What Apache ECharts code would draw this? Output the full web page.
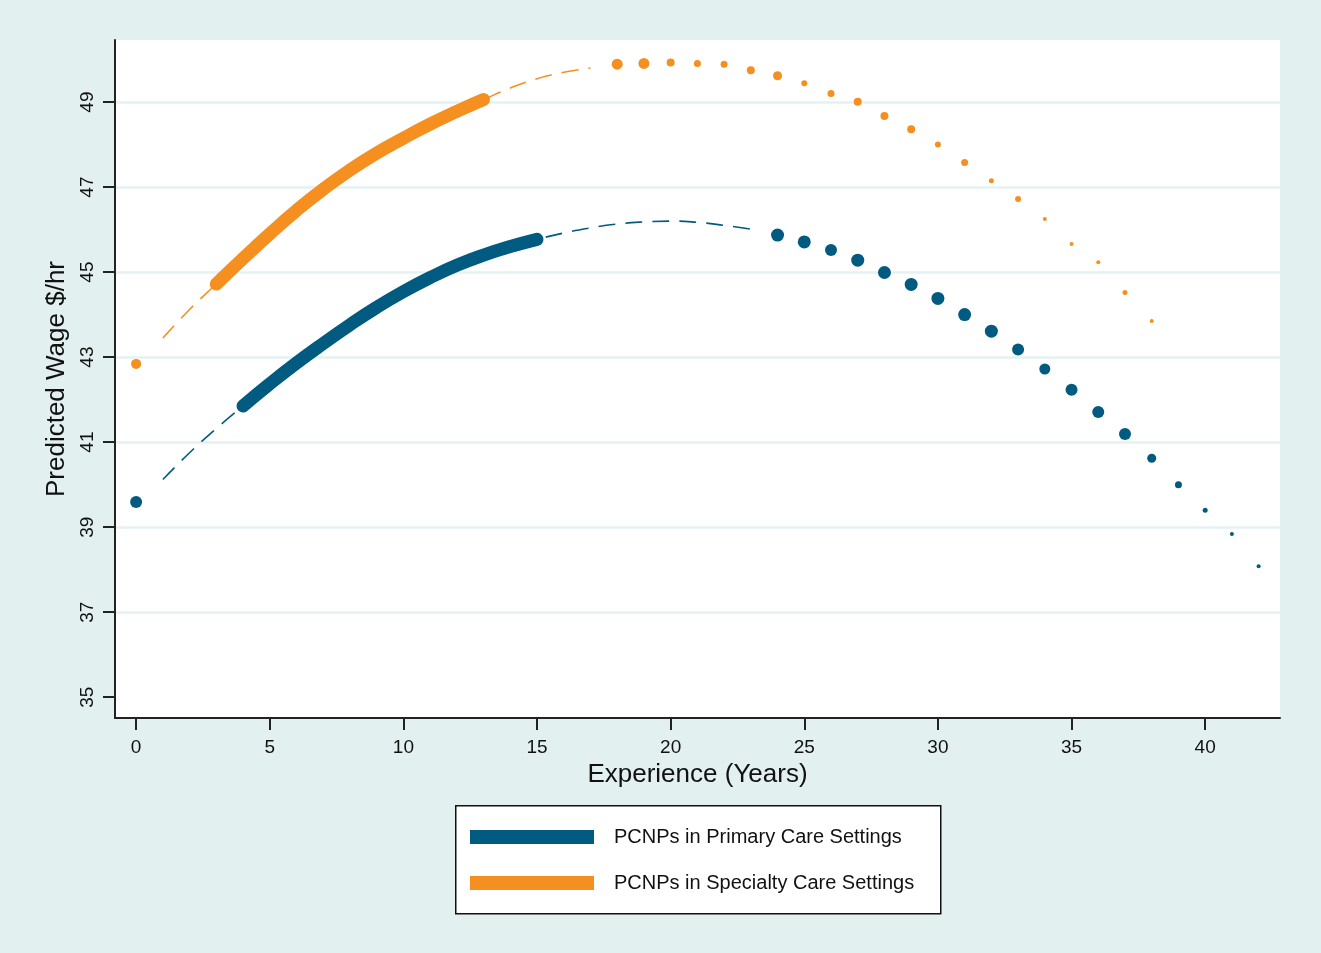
<!DOCTYPE html>
<html>
<head>
<meta charset="utf-8">
<script src="https://cdn.jsdelivr.net/npm/echarts@6/dist/echarts.min.js"></script>
<style>
  html, body { margin: 0; padding: 0; background: #e3f0f0; }
  #chart { width: 1321px; height: 953px; }
</style>
</head>
<body>
<div id="chart"></div>
<script>
// ---------- DATA ----------
const xTicks = [0, 5, 10, 15, 20, 25, 30, 35, 40];
const yTicks = [35, 37, 39, 41, 43, 45, 47, 49];

const seriesNames = ['PCNPs in Primary Care Settings', 'PCNPs in Specialty Care Settings'];

// Primary care: fitted (dashed) curve
const primaryFitX = [1, 2, 3, 4, 5, 6, 7, 8, 9, 10, 11, 12, 13, 14, 15, 16, 17, 18, 19, 20, 21, 22, 23];
const primaryFitY = [40.12, 40.75, 41.32, 41.85, 42.37, 42.86, 43.32, 43.76, 44.17, 44.54, 44.87, 45.16, 45.40, 45.60, 45.77, 45.92, 46.04, 46.13, 46.18, 46.20, 46.17, 46.10, 46.01];
// Primary care: dense band of observations
const primaryBandX = [4, 5, 6, 7, 8, 9, 10, 11, 12, 13, 14, 15];
const primaryBandY = [41.85, 42.37, 42.86, 43.32, 43.76, 44.17, 44.54, 44.87, 45.16, 45.40, 45.60, 45.77];
// Primary care: clustered observations
const primaryPtsX = [0, 24, 25, 26, 27, 28, 29, 30, 31, 32, 33, 34, 35, 36, 37, 38, 39, 40, 41, 42];
const primaryPtsY = [39.59, 45.87, 45.71, 45.52, 45.28, 44.99, 44.71, 44.38, 44.00, 43.61, 43.18, 42.72, 42.23, 41.71, 41.19, 40.62, 40.00, 39.40, 38.84, 38.08];

// Specialty care: fitted (dashed) curve
const specialtyFitX = [1, 2, 3, 4, 5, 6, 7, 8, 9, 10, 11, 12, 13, 14, 15, 16, 17];
const specialtyFitY = [43.45, 44.12, 44.72, 45.32, 45.90, 46.45, 46.95, 47.40, 47.80, 48.15, 48.48, 48.78, 49.06, 49.33, 49.55, 49.70, 49.80];
// Specialty care: dense band of observations
const specialtyBandX = [3, 4, 5, 6, 7, 8, 9, 10, 11, 12, 13];
const specialtyBandY = [44.72, 45.32, 45.90, 46.45, 46.95, 47.40, 47.80, 48.15, 48.48, 48.78, 49.06];
// Specialty care: clustered observations
const specialtyPtsX = [0, 18, 19, 20, 21, 22, 23, 24, 25, 26, 27, 28, 29, 30, 31, 32, 33, 34, 35, 36, 37, 38];
const specialtyPtsY = [42.84, 49.89, 49.91, 49.93, 49.91, 49.89, 49.75, 49.62, 49.44, 49.20, 49.01, 48.67, 48.36, 48.00, 47.58, 47.15, 46.72, 46.25, 45.66, 45.23, 44.52, 43.85];

// ---------- STYLE ----------
const BLUE = '#015b80';
const ORANGE = '#f58f1f';
const BG = '#e3f0f0';
const GRIDC = '#e6f2f2';
const FONT = '"Liberation Sans", Arial, Helvetica, sans-serif';
// marker diameters (cluster density), styling only
const primaryPtSizes = [12, 13, 13, 12, 13, 13, 13, 13, 13, 13, 12, 11, 12, 12, 12, 9, 7, 5, 4, 4];
const specialtyPtSizes = [10, 11, 11, 8, 7, 7, 8, 9, 6, 7, 8, 8, 8, 6, 7, 5, 6, 4, 4, 4, 5, 4];
// no grid line on the lowest tick (35), as in the reference
const gridColors = ['rgba(0,0,0,0)', GRIDC, GRIDC, GRIDC, GRIDC, GRIDC, GRIDC, GRIDC];

const zip = (xs, ys) => xs.map((x, i) => [x, ys[i]]);

const chart = echarts.init(document.getElementById('chart'), null, { renderer: 'canvas' });

const option = {
  backgroundColor: BG,
  animation: false,
  textStyle: { fontFamily: FONT },
  grid: {
    left: 115, right: 41, top: 40, bottom: 235,
    show: true, backgroundColor: '#ffffff', borderWidth: 0
  },
  graphic: [{
    type: 'rect',
    left: 455, top: 805,
    shape: { width: 485, height: 108 },
    style: { fill: '#ffffff', stroke: '#111111', lineWidth: 1.5 },
    z: 0
  }],
  legend: {
    data: seriesNames,
    orient: 'vertical',
    left: 470, top: 827,
    padding: 0,
    itemWidth: 124, itemHeight: 14,
    itemGap: 26,
    icon: 'rect',
    selectedMode: false,
    textStyle: { fontSize: 20, color: '#111', fontFamily: FONT, padding: [0, 0, 0, 15] },
    z: 5
  },
  xAxis: {
    type: 'value',
    min: -0.79, max: 42.8,
    name: 'Experience (Years)',
    nameLocation: 'middle',
    nameGap: 41,
    nameTextStyle: { fontSize: 26, color: '#111', fontFamily: FONT },
    axisLine: { show: true, onZero: false, lineStyle: { color: '#222', width: 2 } },
    axisTick: { show: true, length: 12, customValues: xTicks, lineStyle: { color: '#222', width: 2 } },
    axisLabel: { customValues: xTicks, fontSize: 19, color: '#111', margin: 20 },
    splitLine: { show: false }
  },
  yAxis: {
    type: 'value',
    min: 34.51, max: 50.46,
    name: 'Predicted Wage $/hr',
    nameLocation: 'middle',
    nameGap: 45,
    nameTextStyle: { fontSize: 26, color: '#111', fontFamily: FONT },
    axisLine: { show: true, onZero: false, lineStyle: { color: '#222', width: 2 } },
    axisTick: { show: true, length: 12, customValues: yTicks, lineStyle: { color: '#222', width: 2 } },
    axisLabel: { customValues: yTicks, fontSize: 19, color: '#111', rotate: 90, margin: 18 },
    splitLine: { show: true, lineStyle: { color: gridColors, width: 2.5 } }
  },
  series: [
    {
      name: 'primary fit', type: 'line', data: zip(primaryFitX, primaryFitY),
      smooth: true, showSymbol: false, silent: true, z: 2,
      lineStyle: { color: BLUE, width: 1.6, type: [17, 10] }
    },
    {
      name: 'specialty fit', type: 'line', data: zip(specialtyFitX, specialtyFitY),
      smooth: true, showSymbol: false, silent: true, z: 2,
      lineStyle: { color: ORANGE, width: 1.6, type: [17, 10] }
    },
    {
      name: seriesNames[0], type: 'line', data: zip(primaryBandX, primaryBandY),
      smooth: true, showSymbol: false, silent: true, z: 3,
      itemStyle: { color: BLUE },
      lineStyle: { color: BLUE, width: 13, cap: 'round', join: 'round' }
    },
    {
      name: seriesNames[1], type: 'line', data: zip(specialtyBandX, specialtyBandY),
      smooth: true, showSymbol: false, silent: true, z: 3,
      itemStyle: { color: ORANGE },
      lineStyle: { color: ORANGE, width: 13, cap: 'round', join: 'round' }
    },
    {
      name: 'primary obs', type: 'scatter', data: zip(primaryPtsX, primaryPtsY),
      symbol: 'circle', silent: true, z: 4,
      symbolSize: (v, p) => primaryPtSizes[p.dataIndex],
      itemStyle: { color: BLUE, opacity: 1 }
    },
    {
      name: 'specialty obs', type: 'scatter', data: zip(specialtyPtsX, specialtyPtsY),
      symbol: 'circle', silent: true, z: 4,
      symbolSize: (v, p) => specialtyPtSizes[p.dataIndex],
      itemStyle: { color: ORANGE, opacity: 1 }
    }
  ]
};
chart.setOption(option);
</script>
</body>
</html>
